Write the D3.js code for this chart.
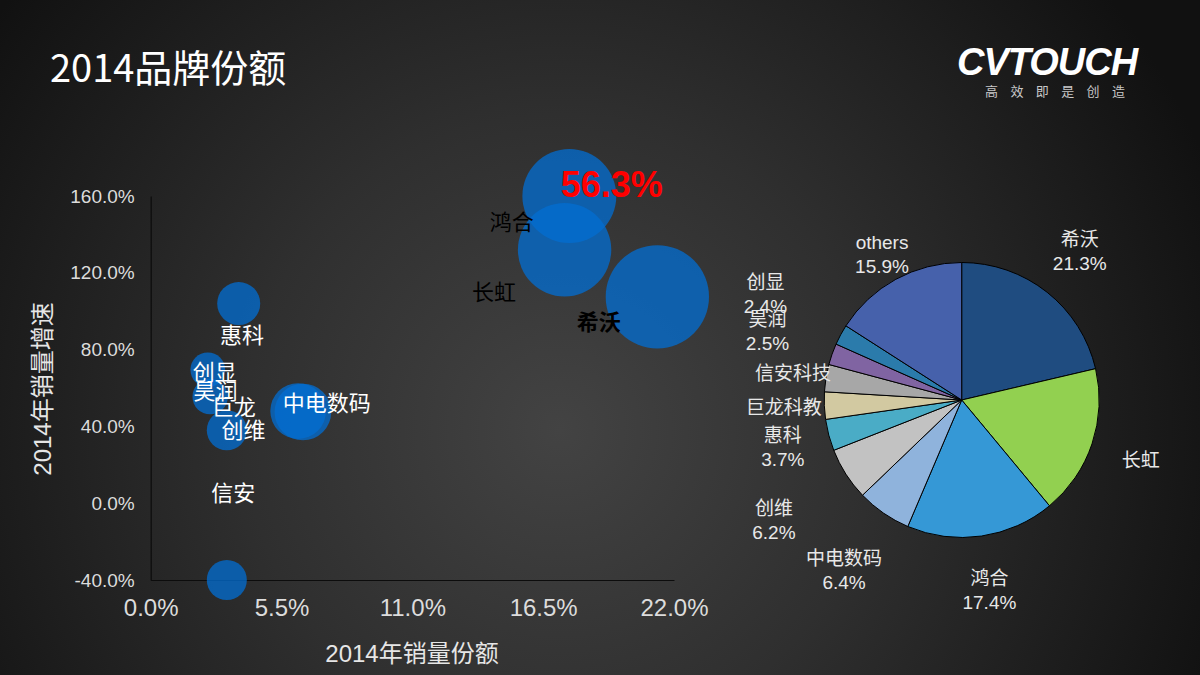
<!DOCTYPE html>
<html>
<head>
<meta charset="utf-8">
<script src="https://cdn.jsdelivr.net/npm/d3@7"></script>
<style>
  html, body { margin: 0; padding: 0; background: #1a1a1a; }
  svg { display: block; }
</style>
</head>
<body>
<svg id="chart" width="1200" height="675"></svg>
<script>
// ---------------- DATA ----------------
const titleText = "2014品牌份额";
const xAxisTitle = "2014年销量份额";
const yAxisTitle = "2014年销量增速";
const xTickValues = [0, 5.5, 11, 16.5, 22];
const yTickValues = [-40, 0, 40, 80, 120, 160];

// bubble chart: x = 2014 share (%), y = 2014 growth (%)
const scatterNames  = ["希沃", "长虹", "鸿合", "中电数码", "创维", "惠科", "创显", "昊润", "巨龙", "信安"];
const scatterShare  = [21.3, 17.6, 17.4, 6.4, 6.2, 3.7, 2.4, 2.5, 3.2, 3.2];
const scatterGrowth = [107.5, 160.0, 132.0, 47.5, 48.0, 104.0, 69.5, 55.5, 38.0, -40.0];

// pie chart: 2014 share (%)
const pieNames  = ["希沃", "长虹", "鸿合", "中电数码", "创维", "惠科", "巨龙科教", "信安科技", "昊润", "创显", "others"];
const pieValues = [21.3, 17.6, 17.4, 6.4, 6.2, 3.7, 3.2, 3.2, 2.5, 2.4, 15.9];
const pieShowValue = [true, false, true, true, true, true, false, false, true, true, true];

// top-3 brands summed for the red annotation
const top3Names = ["希沃", "长虹", "鸿合"];

// ---------------- STYLE / LAYOUT ----------------
const pieColors = ["#1f4c80", "#92d050", "#3598d6", "#8fb3dc", "#c2c2c2", "#4aacc6",
                   "#d2c9a1", "#a7a7a7", "#8064a2", "#2b7bab", "#4661ab"];
// label offsets for the bubble chart (pixels, relative to bubble center)
const scatterLabelLayout = {
  "希沃":   { dx: -58.6, dy: 25.7, color: "#000", weight: 700 },
  "长虹":   { dx: -75.3, dy: 96,   color: "#000", weight: 400 },
  "鸿合":   { dx: -52.9, dy: -27.3, color: "#000", weight: 400 },
  "中电数码": { dx: 23.8, dy: -9,   color: "#fff", weight: 400 },
  "创维":   { dx: -54.7, dy: 19,   color: "#fff", weight: 400 },
  "惠科":   { dx: 3.3,  dy: 31.5,  color: "#fff", weight: 400 },
  "创显":   { dx: 6.9,  dy: 2.7,   color: "#fff", weight: 400 },
  "昊润":   { dx: 5.3,  dy: -5.6,  color: "#fff", weight: 400 },
  "巨龙":   { dx: 6.9,  dy: -23.5, color: "#fff", weight: 400 },
  "信安":   { dx: 6.5,  dy: -87,   color: "#fff", weight: 400 }
};
const pieLabelRadius = [190, 189, 192, 207, 223, 185, 178, 171, 206, 223, 166];

const W = 1200, H = 675;
const latin = "'Liberation Sans', 'Noto Sans CJK SC', sans-serif";
const cjk = "'Noto Sans CJK SC', 'Liberation Sans', sans-serif";

const svg = d3.select("#chart");

// background
const defs = svg.append("defs");
const grad = defs.append("radialGradient").attr("id", "bg")
  .attr("gradientUnits", "userSpaceOnUse")
  .attr("cx", 560).attr("cy", 430).attr("r", 700);
grad.append("stop").attr("offset", "0%").attr("stop-color", "#434343");
grad.append("stop").attr("offset", "45%").attr("stop-color", "#2f2f2f");
grad.append("stop").attr("offset", "100%").attr("stop-color", "#111111");
svg.append("rect").attr("width", W).attr("height", H).attr("fill", "url(#bg)");

// title
svg.append("text").attr("x", 50).attr("y", 82)
  .attr("font-family", cjk).attr("font-size", 38).attr("fill", "#fff")
  .text(titleText);

// logo
svg.append("text").attr("x", 957).attr("y", 75)
  .attr("font-family", "'Liberation Sans', sans-serif").attr("font-size", 38)
  .attr("font-weight", 700).attr("font-style", "italic").attr("fill", "#fff")
  .attr("letter-spacing", -1)
  .text("CVTOUCH");
svg.append("text").attr("x", 985).attr("y", 96)
  .attr("font-family", cjk).attr("font-size", 13).attr("fill", "#c8c8c8")
  .attr("letter-spacing", 12.4)
  .text("高效即是创造");

// ---------------- BUBBLE CHART ----------------
const x = d3.scaleLinear().domain([0, 22]).range([150.7, 674]);
const y = d3.scaleLinear().domain([-40, 160]).range([580, 196]);
const r = d3.scaleSqrt().domain([0, 22]).range([0, 52.5]);
const pct1 = d => (+d).toFixed(1) + "%";

const xAxis = svg.append("g").attr("transform", `translate(0,${y(-40)})`)
  .call(d3.axisBottom(x).tickValues(xTickValues).tickFormat(pct1).tickSize(0).tickSizeOuter(0).tickPadding(18.5));
const yAxis = svg.append("g").attr("transform", `translate(${x(0)},0)`)
  .call(d3.axisLeft(y).tickValues(yTickValues).tickFormat(pct1).tickSize(0).tickSizeOuter(0).tickPadding(16));
[xAxis, yAxis].forEach(g => {
  g.select(".domain").attr("stroke", "#0c0c0c").attr("stroke-width", 1.2);
  g.selectAll("text").attr("font-family", latin).attr("fill", "#dcdcdc");
});
xAxis.selectAll("text").attr("font-size", 24);
yAxis.selectAll("text").attr("font-size", 19);

svg.append("text").attr("x", 412).attr("y", 662).attr("text-anchor", "middle")
  .attr("font-family", latin).attr("font-size", 24).attr("fill", "#e6e6e6")
  .text(xAxisTitle);
svg.append("text").attr("transform", "translate(51,389) rotate(-90)").attr("text-anchor", "middle")
  .attr("font-family", latin).attr("font-size", 24).attr("fill", "#e6e6e6")
  .text(yAxisTitle);

const bubbles = scatterNames.map((n, i) => ({ name: n, share: scatterShare[i], growth: scatterGrowth[i] }));

svg.append("g").selectAll("circle").data(bubbles).join("circle")
  .attr("cx", d => x(d.share)).attr("cy", d => y(d.growth)).attr("r", d => r(d.share))
  .attr("fill", "#036dd1").attr("fill-opacity", 0.76);

svg.append("g").selectAll("text").data(bubbles).join("text")
  .attr("x", d => x(d.share) + scatterLabelLayout[d.name].dx)
  .attr("y", d => y(d.growth) + scatterLabelLayout[d.name].dy)
  .attr("dy", "0.36em").attr("text-anchor", "middle")
  .attr("font-family", cjk).attr("font-size", 22)
  .attr("font-weight", d => scatterLabelLayout[d.name].weight)
  .attr("fill", d => scatterLabelLayout[d.name].color)
  .text(d => d.name);

// red annotation: combined share of top three brands
const top3Sum = d3.sum(top3Names, n => pieValues[pieNames.indexOf(n)]);
const anchor = bubbles.find(d => d.name === "长虹");
svg.append("text")
  .attr("x", x(anchor.share) + 42.4).attr("y", y(anchor.growth) - 12.3)
  .attr("dy", "0.36em").attr("text-anchor", "middle")
  .attr("font-family", "'Liberation Sans Narrow', 'Liberation Sans', sans-serif")
  .attr("font-size", 36).attr("font-weight", 700).attr("fill", "#ff0000")
  .text(pct1(top3Sum));

// ---------------- PIE ----------------
const cx = 961.7, cy = 400, R = 137.5;
const pieData = d3.pie().sort(null).value(d => d.value)(
  pieNames.map((n, i) => ({ name: n, value: pieValues[i], show: pieShowValue[i], color: pieColors[i] }))
);
const arc = d3.arc().innerRadius(0).outerRadius(R);
const pg = svg.append("g").attr("transform", `translate(${cx},${cy})`);
pg.selectAll("path").data(pieData).join("path")
  .attr("d", arc).attr("fill", d => d.data.color)
  .attr("stroke", "#000").attr("stroke-width", 1).attr("stroke-linejoin", "round");

const lineGap = 23.5;
const labels = pg.selectAll("g.lbl").data(pieData).join("g").attr("class", "lbl")
  .attr("transform", (d, i) => {
    const a = (d.startAngle + d.endAngle) / 2;
    const rl = pieLabelRadius[i];
    return `translate(${rl * Math.sin(a)},${-rl * Math.cos(a)})`;
  });
labels.each(function(d) {
  const g = d3.select(this);
  const lines = d.data.show ? [d.data.name, pct1(d.data.value)] : [d.data.name];
  const off = (lines.length - 1) * lineGap / 2;
  lines.forEach((t, k) => {
    g.append("text").attr("x", 0).attr("y", k * lineGap - off).attr("dy", "0.36em")
      .attr("text-anchor", "middle").attr("font-family", latin).attr("font-size", 19)
      .attr("fill", "#e8e8e8").text(t);
  });
});
</script>
</body>
</html>
